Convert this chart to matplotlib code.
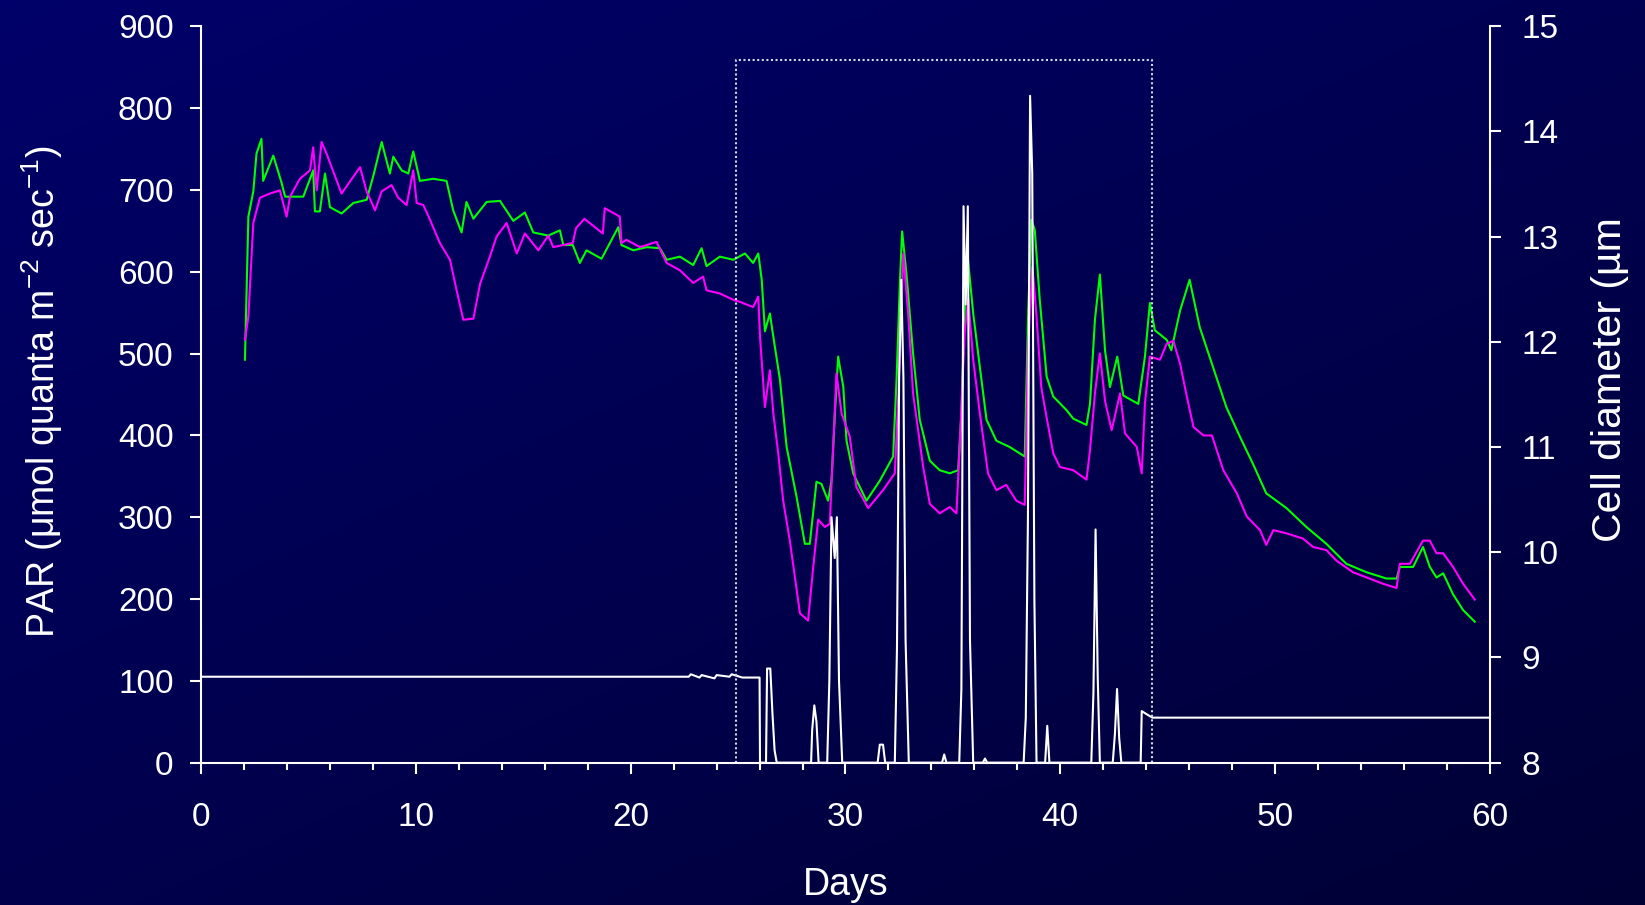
import numpy as np
import matplotlib.pyplot as plt
from matplotlib.colors import LinearSegmentedColormap
from matplotlib.ticker import MultipleLocator

plt.rcParams['font.family'] = 'Liberation Sans'
plt.rcParams['mathtext.fontset'] = 'custom'
plt.rcParams['mathtext.rm'] = 'Liberation Sans'
plt.rcParams['mathtext.it'] = 'Liberation Sans'

# PAR (white, left axis)
par_days = [0, 22.7, 22.8, 23.2, 23.3, 23.9, 24.0, 24.6, 24.7, 25.2, 25.3, 26.0, 26.02,
            26.3, 26.35, 26.5, 26.6, 26.7, 26.8,
            28.4, 28.45, 28.55, 28.65, 28.75,
            29.15, 29.25, 29.35, 29.5, 29.6, 29.7, 29.85,
            31.5, 31.6, 31.75, 31.85,
            32.3, 32.4, 32.5, 32.6, 32.7, 32.8, 32.95,
            34.5, 34.6, 34.7,
            35.3, 35.4, 35.5, 35.6, 35.7, 35.8, 35.95,
            36.4, 36.5, 36.6,
            38.3, 38.4, 38.5, 38.6, 38.7, 38.8, 38.9,
            39.3, 39.4, 39.5,
            41.45, 41.55, 41.65, 41.75, 41.85,
            42.45, 42.55, 42.65, 42.75, 42.85,
            43.75, 43.8, 44.1, 44.3, 60]
par_vals = [105, 105, 108, 104, 107, 103, 107, 105, 108, 104, 104, 104, 0,
            0, 115, 115, 60, 15, 0,
            0, 40, 70, 50, 0,
            0, 100, 300, 250, 300, 100, 0,
            0, 22, 22, 0,
            0, 140, 470, 590, 470, 150, 0,
            0, 10, 0,
            0, 90, 680, 560, 680, 150, 0,
            0, 5, 0,
            0, 55, 300, 815, 720, 200, 0,
            0, 45, 0,
            0, 85, 285, 105, 0,
            0, 35, 90, 30, 0,
            0, 63, 58, 55, 55]

# cell diameter, green series (right axis)
green_days = [2.03, 2.19, 2.42, 2.57, 2.8, 2.88, 3.35, 3.74, 3.9, 4.75, 5.21, 5.29, 5.52,
              5.76, 5.99, 6.53, 7.08, 7.7, 8.0, 8.4, 8.78, 8.94, 9.33, 9.64, 9.87, 10.18,
              10.8, 11.42, 11.73, 12.12, 12.35, 12.67, 13.29, 13.91, 14.53, 15.07, 15.46,
              16.16, 16.7, 16.86, 17.3, 17.63, 17.94, 18.64, 19.42, 19.57, 20.12, 20.74,
              21.36, 21.67, 22.29, 22.91, 23.3, 23.53, 24.15, 24.78, 25.32, 25.7, 25.94,
              26.1, 26.25, 26.48, 26.64, 26.95, 27.26, 27.72, 28.11, 28.34, 28.65, 28.88,
              29.19, 29.35, 29.51, 29.66, 29.9, 30.05, 30.36, 30.98, 31.6, 32.22, 32.38,
              32.54, 32.64, 32.84, 33.15, 33.46, 33.93, 34.39, 34.86, 35.25, 35.4, 35.56,
              35.67, 35.95, 36.26, 36.57, 37.03, 37.65, 38.35, 38.51, 38.66, 38.82, 39.05,
              39.37, 39.68, 40.3, 40.61, 41.23, 41.39, 41.62, 41.85, 42.09, 42.32, 42.66,
              42.94, 43.64, 43.95, 44.18, 44.41, 44.96, 45.18, 45.59, 46.03, 46.5, 47.12,
              47.74, 48.37, 48.98, 49.6, 50.54, 51.47, 52.4, 53.33, 54.27, 55.2, 55.67,
              55.82, 56.44, 56.9, 57.22, 57.53, 57.84, 58.3, 58.77, 59.31]
green_vals = [11.83, 13.19, 13.43, 13.79, 13.93, 13.53, 13.77, 13.51, 13.38, 13.38, 13.63, 13.24, 13.24,
              13.60, 13.28, 13.22, 13.32, 13.35, 13.57, 13.90, 13.60, 13.76, 13.63, 13.60, 13.81, 13.53,
              13.55, 13.53, 13.25, 13.04, 13.33, 13.17, 13.33, 13.34, 13.15, 13.23, 13.04,
              13.01, 13.06, 12.92, 12.92, 12.75, 12.87, 12.79, 13.09, 12.92, 12.87, 12.90,
              12.89, 12.78, 12.81, 12.73, 12.89, 12.72, 12.81, 12.78, 12.84, 12.75, 12.84,
              12.59, 12.10, 12.27, 12.05, 11.64, 11.00, 10.53, 10.08, 10.08, 10.67, 10.65,
              10.49, 10.68, 11.32, 11.86, 11.57, 11.06, 10.75, 10.49, 10.68, 10.91, 11.64,
              12.59, 13.05, 12.65, 11.89, 11.26, 10.87, 10.78, 10.75, 10.78, 11.32, 12.33,
              12.86, 12.27, 11.76, 11.26, 11.06, 11.00, 10.91, 12.27, 13.16, 13.06, 12.40,
              11.67, 11.48, 11.35, 11.27, 11.21, 11.41, 12.21, 12.64, 11.92, 11.57, 11.86,
              11.49, 11.41, 11.86, 12.37, 12.11, 12.02, 11.92, 12.30, 12.59, 12.14, 11.76,
              11.38, 11.10, 10.84, 10.56, 10.42, 10.24, 10.08, 9.89, 9.81, 9.75, 9.75,
              9.86, 9.86, 10.05, 9.86, 9.76, 9.80, 9.60, 9.45, 9.34]

# cell diameter, magenta series (right axis)
magenta_days = [2.03, 2.19, 2.42, 2.73, 3.2, 3.66, 3.97, 4.13, 4.59, 5.06, 5.21, 5.37, 5.6,
                5.83, 6.53, 7.39, 7.7, 8.09, 8.4, 8.86, 9.17, 9.56, 9.87, 10.03, 10.34, 10.65,
                11.11, 11.58, 11.89, 12.2, 12.67, 12.98, 13.44, 13.75, 14.22, 14.69, 15.07,
                15.7, 16.16, 16.39, 17.3, 17.45, 17.84, 18.7, 18.79, 19.49, 19.57, 19.8,
                20.43, 21.2, 21.67, 22.29, 22.91, 23.37, 23.53, 24.15, 24.77, 25.09, 25.7,
                25.94, 26.02, 26.25, 26.48, 26.64, 26.87, 27.1, 27.41, 27.88, 28.26, 28.5,
                28.73, 29.04, 29.27, 29.43, 29.58, 29.82, 30.2, 30.51, 31.06, 31.75, 32.3,
                32.46, 32.69, 32.92, 33.15, 33.62, 33.93, 34.39, 34.86, 35.17, 35.32, 35.56,
                35.72, 35.95, 36.26, 36.64, 37.03, 37.49, 37.96, 38.35, 38.51, 38.71, 38.89,
                39.12, 39.37, 39.68, 39.99, 40.61, 41.23, 41.39, 41.62, 41.85, 42.09, 42.4,
                42.79, 43.02, 43.57, 43.8, 43.95, 44.18, 44.65, 44.96, 45.27, 45.59, 45.9,
                46.21, 46.68, 47.07, 47.6, 48.23, 48.69, 49.31, 49.6, 49.93, 50.54, 51.31,
                51.78, 52.4, 52.87, 53.64, 54.27, 55.04, 55.67, 55.82, 56.29, 56.9, 57.22,
                57.53, 57.84, 58.3, 58.77, 59.31]
magenta_vals = [12.02, 12.24, 13.13, 13.37, 13.41, 13.44, 13.19, 13.38, 13.55, 13.63, 13.85, 13.44, 13.90,
                13.79, 13.41, 13.66, 13.43, 13.25, 13.43, 13.49, 13.37, 13.30, 13.63, 13.32, 13.30, 13.16,
                12.94, 12.78, 12.49, 12.21, 12.22, 12.55, 12.81, 13.00, 13.13, 12.84, 13.03,
                12.87, 13.01, 12.90, 12.94, 13.08, 13.17, 13.03, 13.27, 13.19, 12.94, 12.97,
                12.90, 12.95, 12.75, 12.68, 12.56, 12.62, 12.49, 12.46, 12.40, 12.38, 12.33,
                12.43, 12.05, 11.38, 11.73, 11.32, 10.94, 10.49, 10.11, 9.42, 9.35, 9.86,
                10.31, 10.24, 10.27, 11.00, 11.70, 11.32, 11.10, 10.62, 10.42, 10.59, 10.75,
                11.48, 12.84, 12.27, 11.51, 10.81, 10.46, 10.37, 10.43, 10.37, 11.00, 12.11,
                12.41, 11.83, 11.32, 10.75, 10.59, 10.64, 10.49, 10.45, 11.95, 12.71, 12.27,
                11.57, 11.28, 10.94, 10.81, 10.78, 10.69, 10.97, 11.51, 11.89, 11.44, 11.16,
                11.51, 11.13, 11.00, 10.75, 11.42, 11.86, 11.83, 11.98, 12.01, 11.79, 11.48,
                11.19, 11.11, 11.11, 10.78, 10.56, 10.34, 10.21, 10.07, 10.21, 10.18, 10.13,
                10.05, 10.02, 9.92, 9.81, 9.76, 9.70, 9.66, 9.89, 9.89, 10.11, 10.11,
                9.99, 9.99, 9.86, 9.70, 9.55]

# dotted box marking the period of interest
box_x = [24.9, 24.9, 44.3, 44.3]
box_y = [0, 859, 859, 0]

fig = plt.figure(figsize=(16.45, 9.05), dpi=100)

# diagonal navy gradient background
bg = fig.add_axes([0, 0, 1, 1], zorder=-10)
yy, xx = np.mgrid[0:1:300j, 0:1:300j]
grad = 0.55 * yy + 0.45 * xx
cmap = LinearSegmentedColormap.from_list('bg', ['#00006a', '#000035'])
bg.imshow(grad, cmap=cmap, aspect='auto', extent=[0, 1, 0, 1], origin='upper')
bg.axis('off')

ax = fig.add_axes([0.1224, 0.1573, 0.7831, 0.8137])
ax2 = ax.twinx()
ax.set_zorder(ax2.get_zorder() + 1)
ax.patch.set_visible(False)
ax2.patch.set_visible(False)

ax2.plot(green_days, green_vals, color='#00ff00', lw=1.5)
ax2.plot(magenta_days, magenta_vals, color='#ff00ff', lw=1.5)
ax.plot(par_days, par_vals, color='white', lw=1.5)
ax.plot(box_x, box_y, color='#c8dcd8', lw=1.5, dashes=(1, 1.2))

ax.set_xlim(0, 60)
ax.set_ylim(0, 900)
ax2.set_ylim(8, 15)
ax.set_yticks(np.arange(0, 901, 100))
ax2.set_yticks(np.arange(8, 16, 1))
ax.set_xticks(np.arange(0, 61, 10))
ax.xaxis.set_minor_locator(MultipleLocator(2))

for a in (ax, ax2):
    for s in a.spines.values():
        s.set_visible(False)
        s.set_color('white')
        s.set_linewidth(1.5)
ax.spines['left'].set_visible(True)
ax.spines['bottom'].set_visible(True)
ax2.spines['right'].set_visible(True)

ax.tick_params(axis='y', colors='white', direction='out', width=1.5, length=8,
               labelsize=24, pad=12)
ax.tick_params(axis='x', which='major', colors='white', direction='out', width=1.5,
               length=8, labelsize=24, pad=20)
ax.tick_params(axis='x', which='minor', colors='white', direction='out', width=1.5,
               length=5)
ax2.tick_params(axis='y', colors='white', direction='out', width=1.5, length=8,
                labelsize=24, pad=15)

fig.text(0.514, 0.022, 'Days', color='white', fontsize=27, ha='center', va='center')
fig.text(0.0255, 0.567, r'PAR ($\mathrm{\mu}$mol quanta m$^{-2}$ sec$^{-1}$)',
         color='white', fontsize=27, ha='center', va='center', rotation=90)
fig.text(0.9787, 0.581, 'Cell diameter (µm', color='white', fontsize=29.5,
         ha='center', va='center', rotation=90)

plt.savefig('out.png', dpi=100)
